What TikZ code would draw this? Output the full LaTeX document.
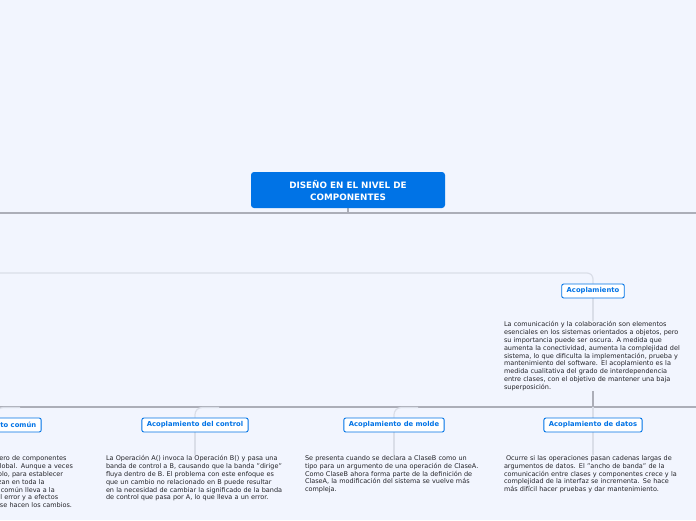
\documentclass[tikz,border=0pt]{standalone}
\usepackage{fontspec}
\setmainfont{DejaVu Sans}
\usepackage{tikz}
\usetikzlibrary{positioning,backgrounds}

\definecolor{fondo}{RGB}{242,245,254}
\definecolor{azul}{RGB}{0,115,230}
\definecolor{rama}{RGB}{172,174,184}
\definecolor{ramaclara}{RGB}{218,222,232}
\definecolor{letra}{RGB}{35,35,40}

\begin{document}
\begin{tikzpicture}[x=1pt, y=-1pt,
    raiz/.style = { fill = azul, rounded corners = 3pt, text = white, align = center,
                    font = \bfseries\fontsize{8.8}{12}\selectfont,
                    minimum width = 194pt, minimum height = 36pt },
    tema/.style = { draw = azul, fill = white, rounded corners = 2pt, text = azul,
                    line width = .9pt, inner xsep = 5pt, minimum height = 14pt,
                    font = \bfseries\fontsize{6.8}{8}\selectfont },
    nota/.style = { text width = 178pt, align = left, inner sep = 0pt, text = letra,
                    font = \fontsize{6.5}{7.8}\selectfont },
    rama/.style = { draw = rama, line width = 1.2pt },
    clara/.style = { draw = ramaclara, line width = 1.2pt }]
    \clip (0,0) rectangle (696,520);

    \node [raiz] (raiz) at (348,190) { DISEÑO EN EL NIVEL DE \\ COMPONENTES };

    \node [tema] (acop) at (593,291) { Acoplamiento };
    \node [nota, below = 23pt of acop] (acoptxt) { La comunicación y la colaboración son elementos \\
      esenciales en los sistemas orientados a objetos, pero \\
      su importancia puede ser oscura. A medida que \\
      aumenta la conectividad, aumenta la complejidad del \\
      sistema, lo que dificulta la implementación, prueba y \\
      mantenimiento del software. El acoplamiento es la \\
      medida cualitativa del grado de interdependencia \\
      entre clases, con el objetivo de mantener una baja \\
      superposición. };

    \node [tema] (comun) at (-4,425) { Acoplamiento común };
    \node [tema] (control) at (195,425) { Acoplamiento del control };
    \node [tema] (molde) at (394,425) { Acoplamiento de molde };
    \node [tema] (datos) at (593,425) { Acoplamiento de datos };

    \node [nota, below = 23pt of comun] (comuntxt) { Se da cuando un cierto número de componentes \\
      hacen uso de una variable global. Aunque a veces \\
      esto es necesario (por ejemplo, para establecer \\
      valores globales que se utilizan en toda la \\
      aplicación), el acoplamiento común lleva a la \\
      propagación incontrolada del error y a efectos \\
      secundarios ocultos cuando se hacen los cambios. };
    \node [nota, below = 23pt of control] (controltxt) { La Operación A() invoca la Operación B() y pasa una \\
      banda de control a B, causando que la banda "dirige" \\
      fluya dentro de B. El problema con este enfoque es \\
      que un cambio no relacionado en B puede resultar \\
      en la necesidad de cambiar la significado de la banda \\
      de control que pasa por A, lo que lleva a un error. };
    \node [nota, below = 23pt of molde] (moldetxt) { Se presenta cuando se declara a ClaseB como un \\
      tipo para un argumento de una operación de ClaseA. \\
      Como ClaseB ahora forma parte de la definición de \\
      ClaseA, la modificación del sistema se vuelve más \\
      compleja. };
    \node [nota, below = 23pt of datos] (datostxt) { \hspace*{2pt}Ocurre si las operaciones pasan cadenas largas de \\
      argumentos de datos. El "ancho de banda" de la \\
      comunicación entre clases y componentes crece y la \\
      complejidad de la interfaz se incrementa. Se hace \\
      más difícil hacer pruebas y dar mantenimiento. };

    \coordinate (izq) at (0,213);
    \coordinate (der) at (696,213);
    \coordinate (entra) at (0,273);
    \coordinate (izqb) at (0,407);
    \coordinate (derb) at (696,407);

    \begin{scope}[on background layer]
      \fill [fondo] (0,0) rectangle (696,520);
      % ramas principales
      \draw [rama] (raiz.south) -- (raiz.south |- izq);
      \draw [rama] (izq) -- (der);
      \draw [clara, rounded corners = 6pt] (entra) -| (acop.north);
      \draw [clara] (acop.south) -- (acoptxt.north -| acop);
      \draw [rama] (acoptxt.south -| acop) -- (izqb -| acop);
      \draw [rama] (izqb) -- (derb);
      % hijos
      \foreach \t in {comun, control, molde}
        \draw [clara, rounded corners = 7pt] (\t.north) |- ++(24,-10);
      \draw [clara] (datos.north) -- (datos.north |- izqb);
      \foreach \t in {comun, control, molde, datos}
        \draw [clara] (\t.south) -- (\t txt.north -| \t);
    \end{scope}
\end{tikzpicture}
\end{document}
